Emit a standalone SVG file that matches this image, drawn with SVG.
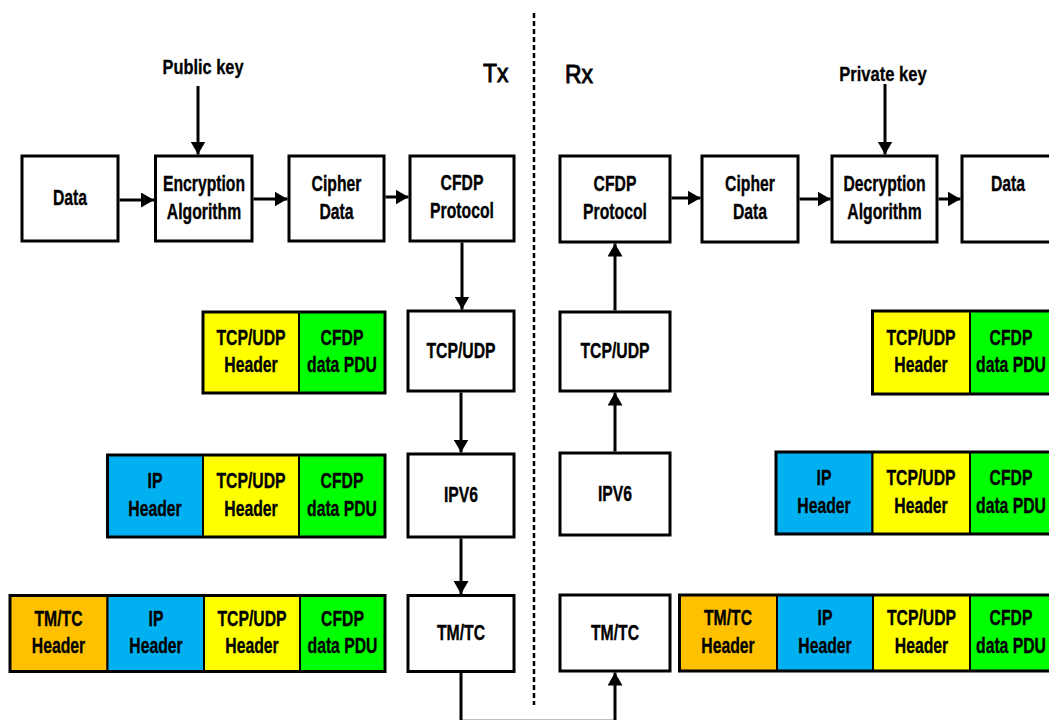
<svg xmlns="http://www.w3.org/2000/svg" width="1049" height="720" viewBox="0 0 1049 720">
<style>
.box{fill:#fff;stroke:#000;stroke-width:3}
.cell{stroke:#000;stroke-width:2}
.frame{fill:none;stroke:#000;stroke-width:3}
.y{fill:#FFFF00}.g{fill:#00FF00}.b{fill:#00B0F0}.o{fill:#FFC000}
.t{font-family:"Liberation Sans",Arial,sans-serif;font-weight:bold;font-size:22.5px;text-anchor:middle;fill:#000;stroke:#000;stroke-width:0.35}
.k{font-family:"Liberation Sans",Arial,sans-serif;font-weight:bold;font-size:19.5px;text-anchor:middle;fill:#000;stroke:#000;stroke-width:0.3}
.s{font-family:"Liberation Sans",Arial,sans-serif;font-size:26px;fill:#000;stroke:#000;stroke-width:0.9}
.ln{fill:none;stroke:#000;stroke-width:3}
.dash{fill:none;stroke:#000;stroke-width:2.5;stroke-dasharray:5 3}
</style>
<defs>
<marker id="ah" markerUnits="userSpaceOnUse" markerWidth="13" markerHeight="15" viewBox="0 0 13 15" refX="13" refY="7.5" orient="auto">
<path d="M0,0 L13,7.5 L0,15 Z" fill="#000"/>
</marker>
</defs>
<rect width="1049" height="720" fill="#fff"/>

<g id="divider">
<line class="dash" x1="534" y1="13" x2="534" y2="705"/>
<text class="s" transform="translate(483,82) scale(0.88,1)">Tx</text>
<text class="s" transform="translate(565,83) scale(0.88,1)">Rx</text>
</g>

<g id="public-key"><text class="k" transform="translate(203,74) scale(0.84,1)">Public key</text></g>
<g id="private-key"><text class="k" transform="translate(883,81) scale(0.85,1)">Private key</text></g>

<g id="tx-data"><rect class="box" x="22" y="156" width="96" height="85"/>
<text class="t" transform="translate(70,205) scale(0.7,1)">Data</text></g>
<g id="tx-encryption"><rect class="box" x="155.5" y="156" width="96.5" height="85"/>
<text class="t" transform="translate(204,191) scale(0.7,1)"><tspan x="0">Encryption</tspan><tspan x="0" dy="28">Algorithm</tspan></text></g>
<g id="tx-cipher"><rect class="box" x="289" y="156" width="95" height="85"/>
<text class="t" transform="translate(336.5,191) scale(0.7,1)"><tspan x="0">Cipher</tspan><tspan x="0" dy="28">Data</tspan></text></g>
<g id="tx-cfdp"><rect class="box" x="410" y="156" width="104" height="85"/>
<text class="t" transform="translate(462,190) scale(0.7,1)"><tspan x="0">CFDP</tspan><tspan x="0" dy="28">Protocol</tspan></text></g>
<g id="tx-tcpudp"><rect class="box" x="408" y="311" width="106" height="80"/>
<text class="t" transform="translate(461,357.5) scale(0.7,1)">TCP/UDP</text></g>
<g id="tx-ipv6"><rect class="box" x="408" y="454" width="106" height="83"/>
<text class="t" transform="translate(461,502) scale(0.7,1)">IPV6</text></g>
<g id="tx-tmtc"><rect class="box" x="408" y="595.5" width="106" height="76"/>
<text class="t" transform="translate(461,640) scale(0.7,1)">TM/TC</text></g>

<g id="rx-cfdp"><rect class="box" x="560" y="156" width="110" height="86"/>
<text class="t" transform="translate(615,191) scale(0.7,1)"><tspan x="0">CFDP</tspan><tspan x="0" dy="28">Protocol</tspan></text></g>
<g id="rx-cipher"><rect class="box" x="702" y="156" width="96" height="86"/>
<text class="t" transform="translate(750,191) scale(0.7,1)"><tspan x="0">Cipher</tspan><tspan x="0" dy="28">Data</tspan></text></g>
<g id="rx-decryption"><rect class="box" x="832" y="156" width="105" height="86"/>
<text class="t" transform="translate(884.5,191) scale(0.7,1)"><tspan x="0">Decryption</tspan><tspan x="0" dy="28">Algorithm</tspan></text></g>
<g id="rx-data"><rect class="box" x="962" y="156" width="92" height="86"/>
<text class="t" transform="translate(1008,191) scale(0.7,1)">Data</text></g>
<g id="rx-tcpudp"><rect class="box" x="560" y="312" width="110" height="79"/>
<text class="t" transform="translate(615,358) scale(0.7,1)">TCP/UDP</text></g>
<g id="rx-ipv6"><rect class="box" x="560" y="453" width="110" height="82"/>
<text class="t" transform="translate(615,500.5) scale(0.7,1)">IPV6</text></g>
<g id="rx-tmtc"><rect class="box" x="560" y="595" width="110" height="76"/>
<text class="t" transform="translate(615,639.5) scale(0.7,1)">TM/TC</text></g>

<g id="tx-packet-1">
<rect class="cell y" x="203" y="312" width="96" height="81"/>
<rect class="cell g" x="299" y="312" width="86" height="81"/>
<rect class="frame" x="203" y="312" width="182" height="81"/>
<text class="t" transform="translate(251,344.5) scale(0.7,1)"><tspan x="0">TCP/UDP</tspan><tspan x="0" dy="28">Header</tspan></text>
<text class="t" transform="translate(342,344.5) scale(0.7,1)"><tspan x="0">CFDP</tspan><tspan x="0" dy="28">data PDU</tspan></text>
</g>
<g id="tx-packet-2">
<rect class="cell b" x="107.5" y="455" width="95.5" height="82"/>
<rect class="cell y" x="203" y="455" width="96" height="82"/>
<rect class="cell g" x="299" y="455" width="86" height="82"/>
<rect class="frame" x="107.5" y="455" width="277.5" height="82"/>
<text class="t" transform="translate(155,488) scale(0.7,1)"><tspan x="0">IP</tspan><tspan x="0" dy="28">Header</tspan></text>
<text class="t" transform="translate(251,488) scale(0.7,1)"><tspan x="0">TCP/UDP</tspan><tspan x="0" dy="28">Header</tspan></text>
<text class="t" transform="translate(342,488) scale(0.7,1)"><tspan x="0">CFDP</tspan><tspan x="0" dy="28">data PDU</tspan></text>
</g>
<g id="tx-packet-3">
<rect class="cell o" x="10" y="595.5" width="97.5" height="76"/>
<rect class="cell b" x="107.5" y="595.5" width="96.5" height="76"/>
<rect class="cell y" x="204" y="595.5" width="96" height="76"/>
<rect class="cell g" x="300" y="595.5" width="85" height="76"/>
<rect class="frame" x="10" y="595.5" width="375" height="76"/>
<text class="t" transform="translate(58.5,625.5) scale(0.7,1)"><tspan x="0">TM/TC</tspan><tspan x="0" dy="28">Header</tspan></text>
<text class="t" transform="translate(156,625.5) scale(0.7,1)"><tspan x="0">IP</tspan><tspan x="0" dy="28">Header</tspan></text>
<text class="t" transform="translate(252,625.5) scale(0.7,1)"><tspan x="0">TCP/UDP</tspan><tspan x="0" dy="28">Header</tspan></text>
<text class="t" transform="translate(342.5,625.5) scale(0.7,1)"><tspan x="0">CFDP</tspan><tspan x="0" dy="28">data PDU</tspan></text>
</g>

<g id="rx-packet-1">
<rect class="cell y" x="872.5" y="311" width="97.5" height="83"/>
<rect class="cell g" x="970" y="311" width="84" height="83"/>
<rect class="frame" x="872.5" y="311" width="181.5" height="83"/>
<text class="t" transform="translate(921,344.5) scale(0.7,1)"><tspan x="0">TCP/UDP</tspan><tspan x="0" dy="28">Header</tspan></text>
<text class="t" transform="translate(1011,344.5) scale(0.7,1)"><tspan x="0">CFDP</tspan><tspan x="0" dy="28">data PDU</tspan></text>
</g>
<g id="rx-packet-2">
<rect class="cell b" x="776" y="452" width="96.5" height="82"/>
<rect class="cell y" x="872.5" y="452" width="97.5" height="82"/>
<rect class="cell g" x="970" y="452" width="84" height="82"/>
<rect class="frame" x="776" y="452" width="278" height="82"/>
<text class="t" transform="translate(824,485) scale(0.7,1)"><tspan x="0">IP</tspan><tspan x="0" dy="28">Header</tspan></text>
<text class="t" transform="translate(921,485) scale(0.7,1)"><tspan x="0">TCP/UDP</tspan><tspan x="0" dy="28">Header</tspan></text>
<text class="t" transform="translate(1011,485) scale(0.7,1)"><tspan x="0">CFDP</tspan><tspan x="0" dy="28">data PDU</tspan></text>
</g>
<g id="rx-packet-3">
<rect class="cell o" x="679.5" y="595" width="97.5" height="76"/>
<rect class="cell b" x="777" y="595" width="96" height="76"/>
<rect class="cell y" x="873" y="595" width="97" height="76"/>
<rect class="cell g" x="970" y="595" width="84" height="76"/>
<rect class="frame" x="679.5" y="595" width="374.5" height="76"/>
<text class="t" transform="translate(728,625) scale(0.7,1)"><tspan x="0">TM/TC</tspan><tspan x="0" dy="28">Header</tspan></text>
<text class="t" transform="translate(825,625) scale(0.7,1)"><tspan x="0">IP</tspan><tspan x="0" dy="28">Header</tspan></text>
<text class="t" transform="translate(921.5,625) scale(0.7,1)"><tspan x="0">TCP/UDP</tspan><tspan x="0" dy="28">Header</tspan></text>
<text class="t" transform="translate(1011,625) scale(0.7,1)"><tspan x="0">CFDP</tspan><tspan x="0" dy="28">data PDU</tspan></text>
</g>

<g id="connectors">
<line class="ln" x1="198" y1="86" x2="198" y2="154.5" marker-end="url(#ah)"/>
<line class="ln" x1="885" y1="84" x2="885" y2="154.5" marker-end="url(#ah)"/>
<line class="ln" x1="119.5" y1="200" x2="154" y2="200" marker-end="url(#ah)"/>
<line class="ln" x1="253.5" y1="199" x2="287.5" y2="199" marker-end="url(#ah)"/>
<line class="ln" x1="385.5" y1="197" x2="408.5" y2="197" marker-end="url(#ah)"/>
<line class="ln" x1="671.5" y1="198" x2="700.5" y2="198" marker-end="url(#ah)"/>
<line class="ln" x1="799.5" y1="199" x2="830.5" y2="199" marker-end="url(#ah)"/>
<line class="ln" x1="938.5" y1="199" x2="960.5" y2="199" marker-end="url(#ah)"/>
<line class="ln" x1="462" y1="242.5" x2="462" y2="309.5" marker-end="url(#ah)"/>
<line class="ln" x1="461" y1="392.5" x2="461" y2="452.5" marker-end="url(#ah)"/>
<line class="ln" x1="461" y1="538.5" x2="461" y2="594" marker-end="url(#ah)"/>
<path class="ln" d="M461,673 V721.3 H615 V672.5" marker-end="url(#ah)"/>
<line class="ln" x1="615" y1="451.5" x2="615" y2="392.5" marker-end="url(#ah)"/>
<line class="ln" x1="615" y1="310.5" x2="615" y2="243.5" marker-end="url(#ah)"/>
</g>
</svg>
